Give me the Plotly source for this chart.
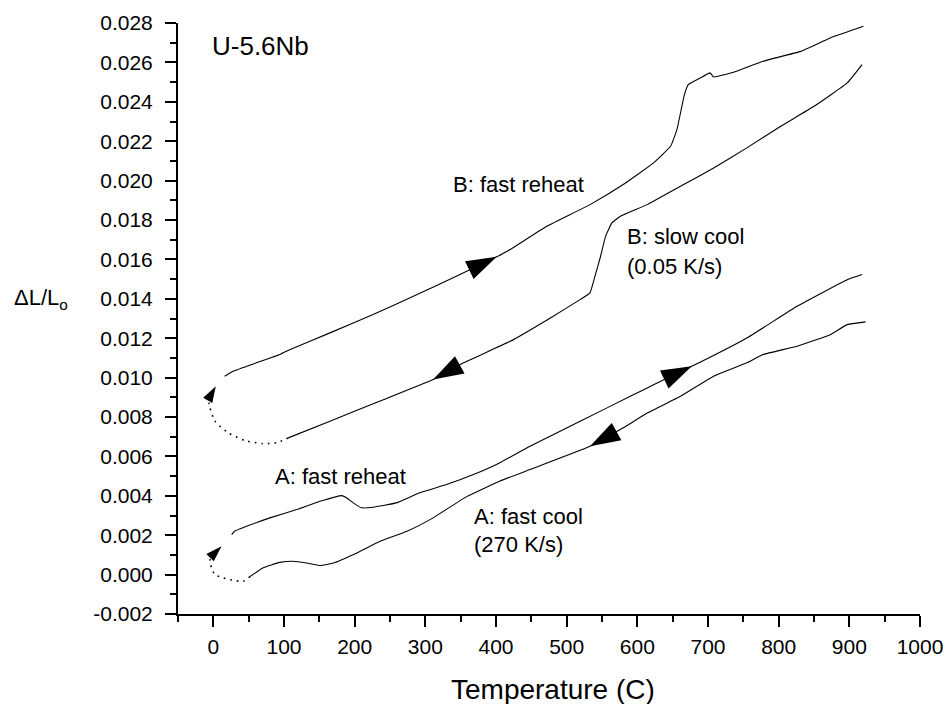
import plotly.graph_objects as go

# ---- dilatometry data: U-5.6Nb, relative length change vs temperature ----
# Path B: slow cool (0.05 K/s) followed by fast reheat
b_cool_T = [918, 897, 850, 803, 755, 708, 661, 614, 576, 564, 555, 548, 540, 533,
            519, 477, 420, 354, 311, 236, 165, 106]
b_cool_dL = [0.02589, 0.02496, 0.02377, 0.02276, 0.02166, 0.02064, 0.01971, 0.01878,
             0.01819, 0.01785, 0.01717, 0.01616, 0.01514, 0.01430, 0.01396, 0.01303,
             0.01184, 0.01075, 0.00990, 0.00881, 0.00779, 0.00694]
b_gap_T = [106, 90, 70, 45, 21, 2, -5, -7]
b_gap_dL = [0.00694, 0.00670, 0.00665, 0.00680, 0.00720, 0.00780, 0.00850, 0.00890]
b_reheat_T = [16, 28, 61, 94, 108, 165, 226, 283, 349, 401, 420, 472, 533, 580, 623,
              647, 656, 663, 666, 672, 689, 703, 708, 736, 778, 831, 873, 920]
b_reheat_dL = [0.01007, 0.01032, 0.01075, 0.01117, 0.01142, 0.01227, 0.01320, 0.01413,
               0.01523, 0.01613, 0.01650, 0.01768, 0.01878, 0.01980, 0.02090, 0.02174,
               0.02259, 0.02377, 0.02428, 0.02487, 0.02521, 0.02547, 0.02526, 0.02550,
               0.02606, 0.02656, 0.02724, 0.02783]

# Path A: fast cool (270 K/s) followed by fast reheat
a_cool_T = [923, 897, 873, 826, 778, 755, 708, 661, 614, 580, 533, 448, 405, 359, 311,
            274, 236, 203, 170, 151, 132, 113, 94, 70, 52]
a_cool_dL = [0.01283, 0.01269, 0.01218, 0.01159, 0.01117, 0.01075, 0.01007, 0.00905,
             0.00820, 0.00745, 0.00651, 0.00533, 0.00474, 0.00397, 0.00288, 0.00220,
             0.00169, 0.00110, 0.00059, 0.00046, 0.00059, 0.00068, 0.00062, 0.00034,
             -0.00010]
a_gap_T = [52, 42, 28, 14, 2, -2.5, -4, -5]
a_gap_dL = [-0.00010, -0.00034, -0.00029, -0.00017, 0.00000, 0.00034, 0.00059, 0.00085]
a_reheat_T = [26, 30, 47, 80, 118, 151, 182, 189, 198, 210, 226, 259, 292, 330, 368,
              405, 448, 519, 590, 628, 677, 755, 826, 897, 918]
a_reheat_dL = [0.00203, 0.00220, 0.00245, 0.00288, 0.00330, 0.00372, 0.00401, 0.00389,
               0.00364, 0.00339, 0.00342, 0.00364, 0.00415, 0.00457, 0.00508, 0.00567,
               0.00651, 0.00778, 0.00905, 0.00973, 0.01057, 0.01201, 0.01362, 0.01497,
               0.01523]

# direction arrows: (tail, tip) pairs along each path
arrow_T = [[349, 401], [354, 311], [628, 677], [580, 533]]
arrow_dL = [[0.01523, 0.01613], [0.01075, 0.00990], [0.00973, 0.01057], [0.00745, 0.00651]]
small_arrow_T = [[-7.4, 3.5], [-5, 11.6]]
small_arrow_dL = [[0.00888, 0.00956], [0.00085, 0.00144]]

# axis ticks
x_ticks = list(range(0, 1001, 100))
y_ticks = [round(-0.002 + 0.002 * i, 3) for i in range(16)]
y_tick_text = [f"{v:.3f}" for v in y_ticks]

FONT = "Arial, Liberation Sans, sans-serif"
INK = "black"

fig = go.Figure()

solid = dict(color=INK, width=1.1, shape="spline", smoothing=0.35)
dotted = dict(color=INK, width=1.6, dash="1.6px,5px", shape="spline", smoothing=0.6)

for T, dL in [(b_cool_T, b_cool_dL), (b_reheat_T, b_reheat_dL),
              (a_cool_T, a_cool_dL), (a_reheat_T, a_reheat_dL)]:
    fig.add_trace(go.Scatter(x=T, y=dL, mode="lines", line=solid,
                             hoverinfo="skip", showlegend=False))

for T, dL in [(b_gap_T, b_gap_dL), (a_gap_T, a_gap_dL)]:
    fig.add_trace(go.Scatter(x=T, y=dL, mode="lines", line=dotted,
                             hoverinfo="skip", showlegend=False))

for T, dL in zip(arrow_T, arrow_dL):
    fig.add_trace(go.Scatter(x=T, y=dL, mode="markers",
                             marker=dict(symbol="arrow", size=32, angleref="previous",
                                         color=INK, line=dict(width=0)),
                             hoverinfo="skip", showlegend=False))

for T, dL in zip(small_arrow_T, small_arrow_dL):
    fig.add_trace(go.Scatter(x=T, y=dL, mode="markers",
                             marker=dict(symbol="arrow", size=17, angleref="previous",
                                         color=INK, line=dict(width=0)),
                             hoverinfo="skip", showlegend=False))

label_font = dict(family=FONT, size=21, color=INK)
notes = [
    ("U-5.6Nb", -5, 0.02685, "left", 26),
    ("B: fast reheat", 432, 0.01980, "center", 22),
    ("B: slow cool", 583, 0.01716, "left", 22),
    ("(0.05 K/s)", 583, 0.01563, "left", 22),
    ("A: fast reheat", 180, 0.00499, "center", 22),
    ("A: fast cool", 366, 0.00296, "left", 22),
    ("(270 K/s)", 366, 0.00152, "left", 22),
]
for text, x, y, anchor, size in notes:
    fig.add_annotation(x=x, y=y, xref="x", yref="y", text=text, showarrow=False,
                       xanchor=anchor, yanchor="middle",
                       font=dict(family=FONT, size=size, color=INK))

# y-axis label with subscript, and x-axis title
fig.add_annotation(x=-0.224, y=0.0140, xref="paper", yref="y",
                   text="ΔL/L<sub>o</sub>", showarrow=False,
                   xanchor="left", yanchor="middle",
                   font=dict(family=FONT, size=22, color=INK))
fig.add_annotation(x=0.506, y=-0.127, xref="paper", yref="paper",
                   text="Temperature (C)", showarrow=False,
                   xanchor="center", yanchor="middle",
                   font=dict(family=FONT, size=28, color=INK))

axis_common = dict(showline=True, linecolor=INK, linewidth=2, ticks="outside",
                   tickcolor=INK, tickwidth=2, ticklen=11, showgrid=False,
                   zeroline=False, mirror=False, tickfont=label_font, automargin=False)

fig.update_xaxes(range=[-50, 1000], tickvals=x_ticks, ticktext=[str(t) for t in x_ticks],
                 ticklabelstandoff=2,
                 minor=dict(dtick=50, tick0=0, ticks="outside", ticklen=6,
                            tickwidth=2, tickcolor=INK, showgrid=False),
                 **axis_common)
fig.update_yaxes(range=[-0.002, 0.028], tickvals=y_ticks, ticktext=y_tick_text,
                 ticklabelstandoff=8,
                 minor=dict(dtick=0.001, tick0=0, ticks="outside", ticklen=6,
                            tickwidth=2, tickcolor=INK, showgrid=False),
                 **axis_common)

fig.update_layout(width=946, height=704, plot_bgcolor="white", paper_bgcolor="white",
                  margin=dict(l=178, r=26, t=23, b=90), showlegend=False,
                  font=dict(family=FONT, color=INK))

fig.write_html("out.html")
